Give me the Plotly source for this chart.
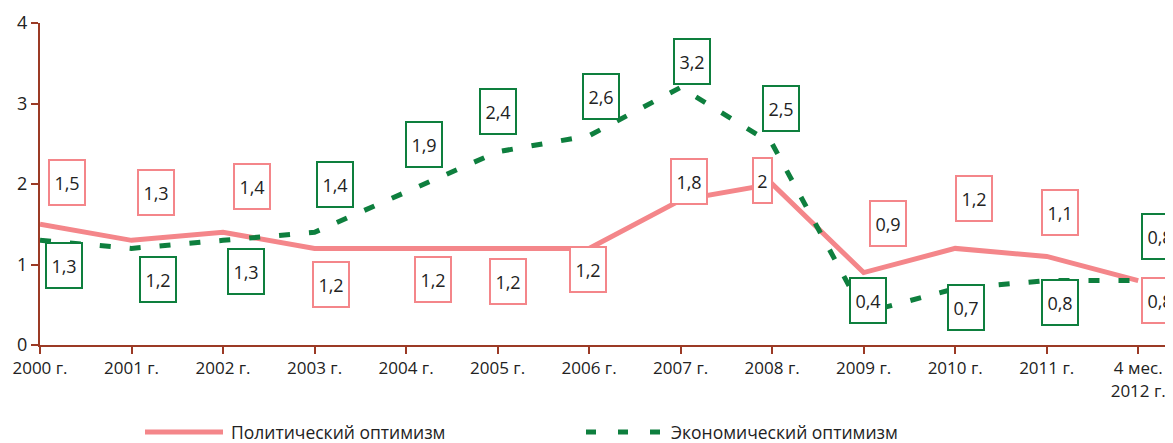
import plotly.graph_objects as go

categories = ["2000 г.", "2001 г.", "2002 г.", "2003 г.", "2004 г.", "2005 г.", "2006 г.",
              "2007 г.", "2008 г.", "2009 г.", "2010 г.", "2011 г.", "4 мес.<br>2012 г."]
political = [1.5, 1.3, 1.4, 1.2, 1.2, 1.2, 1.2, 1.8, 2.0, 0.9, 1.2, 1.1, 0.8]
economic = [1.3, 1.2, 1.3, 1.4, 1.9, 2.4, 2.6, 3.2, 2.5, 0.4, 0.7, 0.8, 0.8]
series_names = ["Политический оптимизм", "Экономический оптимизм"]

# label offsets in pixels (dx right, dy down)
pol_off = [(27, -42), (24, -48), (29, -46), (16, 36), (27, 31), (10, 33), (-1, 21),
           (8, -19), (-10, -4), (24, -49), (19, -50), (13, -44), (22, 20)]
eco_off = [(24, 25), (26, 31), (23, 31), (20, -48), (18, -48), (0, -40), (12, -39),
           (11, -26), (9, -35), (4, -12), (11, 19), (13, 22), (22, -44)]

POL = "#F4868A"
ECO = "#0E7F3E"
AXIS = "#9B3A25"
FONT = "Open Sans"
TXT = "#222222"

x_idx = list(range(len(categories)))

fig = go.Figure()
fig.add_trace(go.Scatter(x=x_idx, y=political, mode="lines", name=series_names[0],
                         line=dict(color=POL, width=5), showlegend=False))
fig.add_trace(go.Scatter(x=x_idx, y=economic, mode="lines", name=series_names[1],
                         line=dict(color=ECO, width=5, dash="11px,19px"), showlegend=False))


def fmt(v):
    return ("%g" % v).replace(".", ",")


anns = []
for vals, offs, col in ((political, pol_off, POL), (economic, eco_off, ECO)):
    for i, (v, (dx, dy)) in enumerate(zip(vals, offs)):
        t = fmt(v)
        anns.append(dict(x=i, y=v, xref="x", yref="y", text=t, showarrow=False,
                         xshift=dx, yshift=-dy, bgcolor="white", bordercolor=col,
                         borderwidth=2, borderpad=0,
                         width=(17 if len(t) == 1 else 34), height=43,
                         font=dict(family=FONT, size=18, color=TXT)))

# page has an 8px body margin; plot area in page pixels: left 40, top 23, 1133 x 322
PAGE_OFF = 8
L, W, T, H = 40, 1133, 23, 322
FIG_W, FIG_H = 1173 - PAGE_OFF, 443 - PAGE_OFF


def px(x):
    return (x - L) / W


def py(y):
    return (T + H - y) / H


leg_y = py(432)
shapes = [
    dict(type="line", xref="paper", yref="paper", x0=px(145), x1=px(223), y0=leg_y, y1=leg_y,
         line=dict(color=POL, width=5)),
    dict(type="line", xref="paper", yref="paper", x0=px(586), x1=px(661), y0=leg_y, y1=leg_y,
         line=dict(color=ECO, width=5, dash="10px,22px")),
]
anns.append(dict(x=px(229), y=leg_y, xref="paper", yref="paper", text=series_names[0],
                 showarrow=False, xanchor="left", yanchor="middle",
                 font=dict(family=FONT, size=17.5, color=TXT)))
anns.append(dict(x=px(669), y=leg_y, xref="paper", yref="paper", text=series_names[1],
                 showarrow=False, xanchor="left", yanchor="middle",
                 font=dict(family=FONT, size=17.5, color=TXT)))

fig.update_layout(
    width=FIG_W, height=FIG_H,
    margin=dict(l=L - PAGE_OFF, r=FIG_W - (L - PAGE_OFF) - W,
                t=T - PAGE_OFF, b=FIG_H - (T - PAGE_OFF) - H),
    paper_bgcolor="white", plot_bgcolor="white",
    font=dict(family=FONT, size=17, color=TXT),
    annotations=anns,
    shapes=shapes,
    showlegend=False,
)
fig.update_xaxes(range=[0, 12.38], tickmode="array", tickvals=x_idx, ticktext=categories,
                 showline=True, linecolor=AXIS, linewidth=2, ticks="outside",
                 tickcolor=AXIS, tickwidth=2, ticklen=7, showgrid=False, zeroline=False,
                 tickangle=0, automargin=False,
                 tickfont=dict(family=FONT, size=17, color=TXT))
fig.update_yaxes(range=[0, 4], tickvals=[0, 1, 2, 3, 4], showline=True, linecolor=AXIS,
                 linewidth=2, ticks="outside", tickcolor=AXIS, tickwidth=2, ticklen=7,
                 showgrid=False, zeroline=False, automargin=False,
                 tickfont=dict(family=FONT, size=18, color=TXT))

fig.write_html("out.html")
